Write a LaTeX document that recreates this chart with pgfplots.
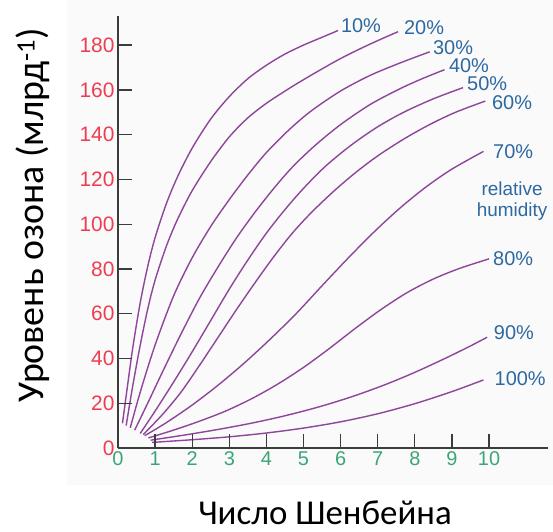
\documentclass[border=0pt]{standalone}
\usepackage{pgfplots}
\pgfplotsset{compat=1.18}
\usepackage{fontspec}
\setmainfont{Liberation Sans}
\newfontfamily\calibri{Carlito}
\definecolor{curve}{RGB}{142,70,155}
\definecolor{ytl}{RGB}{240,60,80}
\definecolor{xtl}{RGB}{60,165,120}
\definecolor{lbl}{RGB}{45,105,160}
\definecolor{axc}{RGB}{60,60,60}
\tikzset{lab/.style={font=\fontsize{20}{22}\selectfont, text=lbl, anchor=center, inner sep=0pt},
  cv/.style={curve, line width=1.4bp, smooth, mark=none}}
\begin{document}
\begin{tikzpicture}
\begin{axis}[
  scale only axis, width=430.4bp, height=432bp,
  xmin=0, xmax=11.6, ymin=0, ymax=193,
  axis x line*=bottom, axis y line*=left,
  axis line style={axc, line width=1.3bp},
  xtick={0,...,10}, ytick={0,20,...,180},
  tick style={axc, line width=1.3bp},
  major tick length=14bp,
  tick align=inside,
  /pgf/number format/assume math mode=true,
  yticklabel style={font=\fontsize{21}{21}\selectfont, text=ytl},
  xticklabel style={font=\fontsize{20}{20}\selectfont, text=xtl},
  clip=false, axis on top,
  xlabel={Число Шенбейна},
  ylabel={Уровень озона (млрд\textsuperscript{-1})},
  xlabel style={at={(axis description cs:0.481,-0.150)}, anchor=center, inner sep=0pt, font=\calibri\fontsize{35}{35}\selectfont},
  ylabel style={at={(axis description cs:-0.1975,0.539)}, anchor=center, inner sep=0pt, font=\calibri\fontsize{38}{38}\selectfont},
]
\fill[black!2] ([shift={(-51bp,-37bp)}]axis cs:0,0) rectangle ([shift={(435bp,448bp)}]axis cs:0,0);
\path ([shift={(-118bp,-84bp)}]axis cs:0,0) ([shift={(435bp,448bp)}]axis cs:0,0);
% 10%
\addplot[cv] coordinates {(0.12,11) (0.25,27) (0.4,45) (0.6,65) (0.8,81) (1.0,94) (1.3,109) (1.6,121) (2.0,134) (2.5,147) (3.0,157) (3.5,165) (4.0,171) (4.5,176) (5.0,180) (5.5,183.5) (5.93,186.5)};
% 20%
\addplot[cv] coordinates {(0.22,10) (0.4,28) (0.6,46) (0.8,62) (1.0,75) (1.3,90) (1.6,102) (2.0,115) (2.5,128) (3.0,139) (3.5,147.5) (4.0,154) (4.6,160.5) (5.2,166.5) (6.0,174) (6.8,180.5) (7.55,186)};
% 30%
\addplot[cv] coordinates {(0.33,9) (0.6,25) (1.0,46) (1.5,68) (2.0,85) (2.5,99) (3.0,111) (3.5,122) (4.0,132) (4.6,142) (5.2,150.5) (6.0,159.5) (6.8,166.5) (7.6,172) (8.4,177)};
% 40%
\addplot[cv] coordinates {(0.45,8) (0.8,20) (1.2,34) (1.7,51) (2.2,67) (2.7,81) (3.2,94) (3.7,105.5) (4.2,116) (4.7,125.5) (5.3,135) (6.0,144.5) (6.8,153.5) (7.6,160.5) (8.2,165) (8.8,169)};
% 50%
\addplot[cv] coordinates {(0.6,6.5) (1.0,16.5) (1.5,29.5) (2.0,43) (2.5,57) (3.0,71) (3.5,84) (4.0,96) (4.5,106.5) (5.0,116) (5.6,126) (6.3,135.5) (7.0,143.5) (7.7,150) (8.5,156) (9.3,161)};
% 60%
\addplot[cv] coordinates {(0.68,6) (1.2,15) (1.7,25) (2.2,37) (2.7,49.5) (3.2,62) (3.7,74) (4.2,85.5) (4.7,96) (5.2,105) (5.8,114.5) (6.4,123) (7.0,130.5) (7.7,138) (8.4,144.5) (9.1,150) (9.9,155)};
% 70%
\addplot[cv] coordinates {(0.72,5.5) (1.3,11.3) (2.0,19.2) (2.7,28.1) (3.4,37.9) (4.1,48.6) (4.8,60) (5.5,72.5) (6.2,84.8) (6.9,96.5) (7.6,107.2) (8.3,116.6) (9.0,124.6) (9.85,132.5)};
% 80%
\addplot[cv] coordinates {(0.82,4.5) (1.5,8) (2.2,12) (2.9,16.5) (3.6,22) (4.3,28.5) (5.0,36) (5.7,44.5) (6.4,53.5) (7.1,62) (7.8,69.5) (8.5,75.5) (9.2,80.2) (10.0,84.5)};
% 90%
\addplot[cv] coordinates {(0.88,3.5) (1.8,5.8) (2.7,8.3) (3.6,11.1) (4.5,14.4) (5.4,18.3) (6.3,22.9) (7.2,28.3) (8.0,33.8) (8.8,39.9) (9.5,45.6) (9.95,49.5)};
% 100%
\addplot[cv] coordinates {(0.92,2.5) (2.0,3.7) (3.0,5.0) (4.0,6.7) (5.0,8.9) (6.0,11.7) (7.0,15.3) (8.0,19.8) (9.0,25.2) (9.85,30.4)};
\node[lab] at (axis cs:6.55,188.8) {10\%};
\node[lab] at (axis cs:8.25,188.0) {20\%};
\node[lab] at (axis cs:9.03,178.7) {30\%};
\node[lab] at (axis cs:9.46,170.6) {40\%};
\node[lab] at (axis cs:9.95,163.0) {50\%};
\node[lab] at (axis cs:10.62,154.5) {60\%};
\node[lab] at (axis cs:10.65,132.6) {70\%};
\node[lab, align=center, font=\fontsize{19}{21}\selectfont] at (axis cs:10.62,110.1) {relative\\humidity};
\node[lab] at (axis cs:10.65,84.4) {80\%};
\node[lab] at (axis cs:10.67,51.4) {90\%};
\node[lab] at (axis cs:10.84,30.8) {100\%};
\end{axis}
\end{tikzpicture}
\end{document}
